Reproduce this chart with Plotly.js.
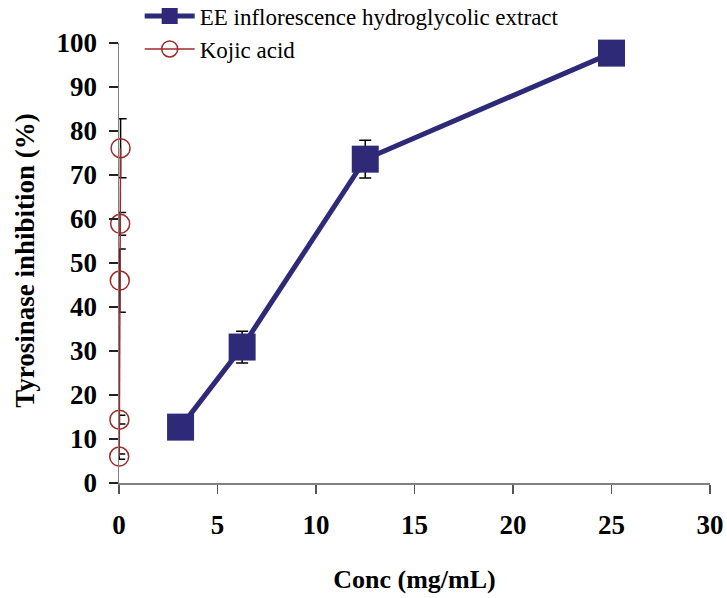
<!DOCTYPE html>
<html>
<head>
<meta charset="utf-8">
<script src="https://cdn.plot.ly/plotly-3.0.1.min.js"></script>
<style>html,body{margin:0;padding:0;background:#fff}#chart{width:727px;height:598px}</style>
</head>
<body>
<div id="chart"></div>
<script>
var eeConc = [3.125, 6.25, 12.5, 25];
var eeInhibition = [12.7, 30.9, 73.6, 97.7];
var eeError = [0.5, 3.6, 4.3, 0.5];

var kojicConc = [0.01, 0.02, 0.04, 0.06, 0.08];
var kojicInhibition = [6.0, 14.4, 46.0, 58.9, 76.1];
var kojicError = [0.6, 1.0, 7.2, 2.6, 6.7];

var xTicks = [0, 5, 10, 15, 20, 25, 30];
var yTicks = [0, 10, 20, 30, 40, 50, 60, 70, 80, 90, 100];

var xTitle = 'Conc (mg/mL)';
var yTitle = 'Tyrosinase inhibition (%)';

var serif = 'Liberation Serif, Times New Roman, serif';

var traces = [
  {
    x: eeConc, y: eeInhibition, name: 'EE inflorescence hydroglycolic extract',
    type: 'scatter', mode: 'lines+markers', cliponaxis: false,
    line: {color: '#2E2A78', width: 5},
    marker: {symbol: 'square', size: 27, color: '#2E2A78'},
    error_y: {type: 'data', array: eeError, visible: true, color: '#000', thickness: 1.5, width: 6}
  },
  {
    x: kojicConc, y: kojicInhibition, name: 'Kojic acid',
    type: 'scatter', mode: 'lines+markers', cliponaxis: false,
    line: {color: '#9E2A2A', width: 1.5},
    marker: {symbol: 'circle-open', size: 19, color: '#9E2A2A', line: {width: 1.5, color: '#9E2A2A'}},
    error_y: {type: 'data', array: kojicError, visible: true, color: '#000', thickness: 1.5, width: 6}
  }
];

var layout = {
  width: 727, height: 598,
  margin: {l: 119, r: 17, t: 43, b: 115, autoexpand: false},
  paper_bgcolor: '#fff', plot_bgcolor: '#fff',
  showlegend: true,
  legend: {
    x: 0.035, y: 1.11, xanchor: 'left', yanchor: 'top',
    itemwidth: 50,
    font: {family: serif, size: 23, color: '#000'},
    bgcolor: 'rgba(0,0,0,0)', tracegroupgap: 0
  },
  xaxis: {
    range: [0, 30], tickvals: xTicks, ticktext: xTicks.map(String),
    showgrid: false, zeroline: false, showline: true, linecolor: '#808080', linewidth: 2,
    ticks: 'outside', ticklen: 9, tickwidth: 1.5, tickcolor: '#555',
    ticklabelstandoff: 8,
    tickfont: {family: serif, size: 27, color: '#000', weight: 'bold'},
    title: {text: '<b>' + xTitle + '</b>', font: {family: serif, size: 26, color: '#000'}, standoff: 30}
  },
  yaxis: {
    range: [0, 100], tickvals: yTicks, ticktext: yTicks.map(String),
    showgrid: false, zeroline: false, showline: true, linecolor: '#808080', linewidth: 1.5,
    ticks: 'outside', ticklen: 9, tickwidth: 1.5, tickcolor: '#222',
    ticklabelstandoff: 6,
    tickfont: {family: serif, size: 27, color: '#000', weight: 'bold'}
  },
  annotations: [{
    text: '<b>' + yTitle + '</b>', xref: 'paper', yref: 'paper',
    x: -0.159, y: 0.505, xanchor: 'center', yanchor: 'middle',
    textangle: -90, showarrow: false,
    font: {family: serif, size: 27, color: '#000'}
  }]
};

Plotly.newPlot('chart', traces, layout, {displayModeBar: false, staticPlot: true});
</script>
</body>
</html>
